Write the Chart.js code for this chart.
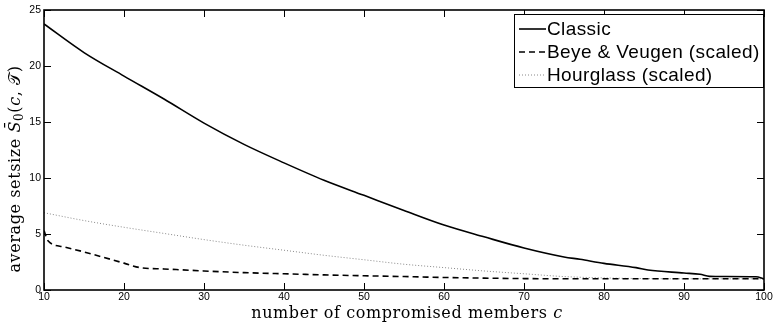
<!DOCTYPE html>
<html>
<head>
<meta charset="utf-8">
<script src="https://cdn.jsdelivr.net/npm/chart.js@4"></script>
<style>
  html, body { margin: 0; padding: 0; background: #fff; }
  #wrap { width: 775px; height: 327px; }
</style>
</head>
<body>
<div id="wrap"><canvas id="chart"></canvas></div>
<script>
// compromised members c
const classicC = [10, 15, 20, 25, 30, 35, 40, 45, 50, 55, 60, 65, 70, 75, 77, 80, 84, 85.5, 90, 92, 93.2, 95, 99, 100];
const classicS = [23.75, 21.2, 19.1, 17.05, 14.9, 13.0, 11.35, 9.8, 8.45, 7.1, 5.8, 4.75, 3.75, 2.95, 2.74, 2.38, 2.0, 1.78, 1.52, 1.4, 1.22, 1.2, 1.18, 1.0];

const beyeC = [10, 10.5, 12.5, 15, 20, 22, 25, 30, 35, 40, 45, 50, 55, 60, 65, 70, 75, 80, 85, 90, 95, 100];
const beyeS = [5.3, 4.4, 3.85, 3.4, 2.4, 2.0, 1.88, 1.7, 1.55, 1.45, 1.35, 1.27, 1.2, 1.12, 1.06, 1.02, 1.0, 1.0, 1.0, 1.0, 1.0, 1.0];

const hourC = [10, 15, 20, 25, 30, 35, 40, 45, 50, 55, 60, 65, 70, 75, 80, 85, 90, 95, 100];
const hourS = [6.9, 6.2, 5.6, 5.05, 4.5, 4.0, 3.55, 3.1, 2.7, 2.3, 2.0, 1.7, 1.45, 1.2, 1.08, 1.02, 1.0, 1.0, 1.0];

const xTicks = [10, 20, 30, 40, 50, 60, 70, 80, 90, 100];
const yTicks = [0, 5, 10, 15, 20, 25];

const toPoints = (xs, ys) => xs.map((x, i) => ({ x: x, y: ys[i] }));

const serif = '"DejaVu Serif", serif';

// box + inward tick marks, matlab style
const frameTicks = {
    id: 'frameTicks',
    afterDraw(chart) {
        const ctx = chart.ctx;
        const a = chart.chartArea;
        const xs = chart.scales.x, ys = chart.scales.y;
        const len = 7;
        ctx.save();
        ctx.strokeStyle = '#000';
        ctx.lineWidth = 1;
        xTicks.forEach(v => {
            const px = Math.round(xs.getPixelForValue(v)) + 0.5;
            ctx.beginPath();
            ctx.moveTo(px, a.bottom); ctx.lineTo(px, a.bottom - len);
            ctx.moveTo(px, a.top); ctx.lineTo(px, a.top + len);
            ctx.stroke();
        });
        yTicks.forEach(v => {
            const py = Math.round(ys.getPixelForValue(v)) + 0.5;
            ctx.beginPath();
            ctx.moveTo(a.left, py); ctx.lineTo(a.left + len, py);
            ctx.moveTo(a.right, py); ctx.lineTo(a.right - len, py);
            ctx.stroke();
        });
        ctx.lineWidth = 1.6;
        ctx.strokeRect(a.left, a.top, a.right - a.left, a.bottom - a.top);
        ctx.restore();
    }
};

// draws a list of [text, style] pieces left to right
function drawPieces(ctx, pieces, x, y) {
    pieces.forEach(p => {
        ctx.font = (p.italic ? 'italic ' : '') + (p.size || 16) + 'px ' + serif;
        ctx.fillText(p.t, x, y + (p.dy || 0));
        x += ctx.measureText(p.t).width;
    });
}
function piecesWidth(ctx, pieces) {
    let w = 0;
    pieces.forEach(p => {
        ctx.font = (p.italic ? 'italic ' : '') + (p.size || 16) + 'px ' + serif;
        w += ctx.measureText(p.t).width;
    });
    return w;
}

const axisTitles = {
    id: 'axisTitles',
    afterDraw(chart) {
        const ctx = chart.ctx;
        const a = chart.chartArea;
        ctx.save();
        ctx.fillStyle = '#000';
        ctx.textBaseline = 'alphabetic';
        ctx.letterSpacing = '0.6px';

        const xp = [{ t: 'number of compromised members ' }, { t: 'c', italic: true }];
        const xw = piecesWidth(ctx, xp);
        drawPieces(ctx, xp, (a.left + a.right) / 2 - xw / 2 + 3, 318);

        const yp = [
            { t: 'average setsize ' },
            { t: 'S\u0304', italic: true },
            { t: '0', size: 12, dy: 3 },
            { t: '(' },
            { t: 'c', italic: true },
            { t: ', ' },
            { t: '\uD835\uDCAF' },
            { t: ')' }
        ];
        const yw = piecesWidth(ctx, yp);
        ctx.translate(20, 169);
        ctx.rotate(-Math.PI / 2);
        drawPieces(ctx, yp, -yw / 2, 0);
        ctx.restore();
    }
};

// legend in a box, top right
const boxLegend = {
    id: 'boxLegend',
    afterDraw(chart) {
        const ctx = chart.ctx;
        const a = chart.chartArea;
        const right = a.right - 1, top = a.top + 4;
        const w = 249, h = 73;
        const left = right - w;
        ctx.save();
        ctx.fillStyle = '#fff';
        ctx.fillRect(left, top, w, h);
        ctx.strokeStyle = '#000';
        ctx.lineWidth = 1;
        ctx.strokeRect(left + 0.5, top + 0.5, w, h);
        ctx.font = '19px "Liberation Sans", Arial, sans-serif';
        ctx.letterSpacing = '0.4px';
        ctx.textBaseline = 'middle';
        chart.data.datasets.forEach((ds, i) => {
            const y = top + 15 + i * 23;
            ctx.beginPath();
            ctx.strokeStyle = ds.borderColor;
            ctx.lineWidth = ds.borderWidth;
            ctx.setLineDash(ds.borderDash || []);
            ctx.moveTo(left + 5, y);
            ctx.lineTo(left + 32, y);
            ctx.stroke();
            ctx.setLineDash([]);
            ctx.fillStyle = '#000';
            ctx.fillText(ds.label, left + 33, y + 1);
        });
        ctx.restore();
    }
};

new Chart(document.getElementById('chart'), {
    type: 'line',
    data: {
        datasets: [
            {
                label: 'Classic',
                data: toPoints(classicC, classicS),
                borderColor: '#000',
                borderWidth: 1.6,
                pointRadius: 0,
                cubicInterpolationMode: 'monotone'
            },
            {
                label: 'Beye & Veugen (scaled)',
                data: toPoints(beyeC, beyeS),
                borderColor: '#000',
                borderWidth: 1.6,
                borderDash: [6, 4],
                pointRadius: 0,
                cubicInterpolationMode: 'monotone'
            },
            {
                label: 'Hourglass (scaled)',
                data: toPoints(hourC, hourS),
                borderColor: '#888',
                borderWidth: 1,
                borderDash: [1, 2],
                pointRadius: 0,
                cubicInterpolationMode: 'monotone'
            }
        ]
    },
    options: {
        responsive: true,
        maintainAspectRatio: false,
        animation: false,
        layout: { padding: { top: 10, right: 11, left: 0, bottom: 0 } },
        plugins: {
            legend: { display: false },
            tooltip: { enabled: false }
        },
        scales: {
            x: {
                type: 'linear',
                min: 10,
                max: 100,
                afterBuildTicks: s => { s.ticks = xTicks.map(v => ({ value: v })); },
                afterFit: s => { s.height = 37; },
                grid: { display: false, drawTicks: false },
                border: { display: false },
                ticks: {
                    padding: 1,
                    color: '#000',
                    font: { family: '"Liberation Sans", Arial, sans-serif', size: 10.5 }
                }
            },
            y: {
                min: 0,
                max: 25,
                afterBuildTicks: s => { s.ticks = yTicks.map(v => ({ value: v })); },
                afterFit: s => { s.width = 44; },
                grid: { display: false, drawTicks: false },
                border: { display: false },
                ticks: {
                    padding: 3,
                    color: '#000',
                    font: { family: '"Liberation Sans", Arial, sans-serif', size: 10.5 }
                }
            }
        }
    },
    plugins: [frameTicks, axisTitles, boxLegend]
});
</script>
</body>
</html>
